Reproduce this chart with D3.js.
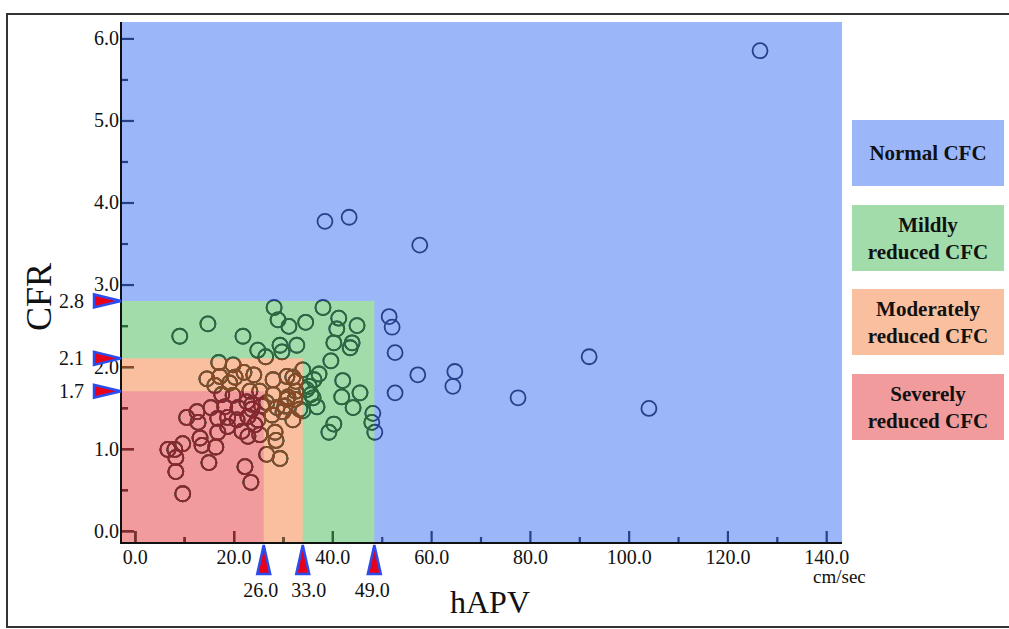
<!DOCTYPE html>
<html>
<head>
<meta charset="utf-8">
<script src="https://cdn.jsdelivr.net/npm/d3@7"></script>
<style>
  body { margin: 0; background: #fff; overflow: hidden; }
  svg { display: block; font-family: "Liberation Serif", "Times New Roman", serif; }
</style>
</head>
<body>
<svg id="chart" width="1009" height="629"></svg>
<script>
// hAPV (cm/sec) and CFR for each patient
const hapv = [126.6, 38.5, 43.4, 57.7, 51.5, 52.1, 52.7, 57.3, 64.8, 64.4, 52.7, 92.0, 77.6, 104.1,
  48.2, 48.0, 48.6, 9.1, 14.8, 21.9, 24.9, 26.5, 29.4, 29.8, 32.8, 28.2, 29.0, 31.2, 34.6, 38.1,
  41.3, 40.9, 45.0, 40.3, 43.6, 44.0, 39.7, 34.0, 37.3, 36.3, 42.1, 41.9, 45.6, 35.3, 35.7, 36.9,
  44.2, 34.0, 40.3, 39.3, 34.8, 36.1, 17.0, 19.9, 22.1, 24.1, 14.6, 17.2, 20.3, 28.0, 30.8, 32.6,
  16.2, 19.2, 32.0, 31.0, 32.6, 30.4, 27.8, 28.4, 28.6, 26.7, 29.4, 30.8, 30.0, 32.4, 28.8, 33.4,
  32.0, 28.0, 19.9, 17.6, 23.3, 25.3, 22.7, 26.7, 23.7, 12.6, 15.4, 18.2, 20.9, 23.7, 25.7, 10.5,
  12.8, 16.8, 18.8, 20.7, 22.9, 24.3, 24.9, 16.8, 18.8, 21.7, 22.9, 25.3, 13.2, 6.7, 8.1, 9.7,
  13.6, 16.4, 8.3, 15.0, 22.3, 8.3, 23.5, 9.7];
const cfr = [5.85, 3.77, 3.82, 3.48, 2.61, 2.48, 2.17, 1.90, 1.94, 1.76, 1.68, 2.12, 1.62, 1.49,
  1.43, 1.32, 1.20, 2.37, 2.52, 2.37, 2.20, 2.12, 2.26, 2.18, 2.26, 2.72, 2.57, 2.49, 2.54, 2.72,
  2.59, 2.46, 2.50, 2.29, 2.23, 2.29, 2.07, 1.96, 1.91, 1.84, 1.83, 1.63, 1.68, 1.76, 1.66, 1.51,
  1.50, 1.46, 1.30, 1.20, 1.72, 1.62, 2.05, 2.02, 1.93, 1.90, 1.85, 1.88, 1.87, 1.84, 1.88, 1.82,
  1.77, 1.80, 1.87, 1.63, 1.70, 1.52, 1.41, 1.20, 1.10, 0.93, 0.88, 1.60, 1.45, 1.60, 1.50, 1.48,
  1.35, 1.66, 1.65, 1.66, 1.70, 1.70, 1.57, 1.56, 1.54, 1.45, 1.50, 1.51, 1.50, 1.48, 1.52, 1.38,
  1.32, 1.37, 1.38, 1.35, 1.39, 1.29, 1.35, 1.20, 1.27, 1.21, 1.15, 1.17, 1.13, 0.99, 0.99, 1.06,
  1.04, 1.02, 0.89, 0.83, 0.78, 0.72, 0.59, 0.45];

// cut-offs for each reduced CFC class, widest first
const hapvCuts = [49, 33, 26];          // labels
const hapvCutsAt = [48.5, 34, 26.1];    // where the picture puts them on the axis
const cfrCuts = [2.8, 2.1, 1.7];
const classNames = [['Normal CFC'], ['Mildly', 'reduced CFC'], ['Moderately', 'reduced CFC'], ['Severely', 'reduced CFC']];
const classColors = ['#9bb7fa', '#a3dcab', '#f9bf9e', '#f29b9c'];
const classInk = ['#27408a', '#2b6a37', '#8a4a26', '#882731'];

const xMajor = [0, 20, 40, 60, 80, 100, 120, 140];
const xMinor = [10, 30, 50, 70, 90, 110, 130];
const yMajor = [0, 1, 2, 3, 4, 5, 6];
const yMinor = [0.5, 1.5, 2.5, 3.5, 4.5, 5.5];

const svg = d3.select('svg#chart');

// outer frame (right side runs off the picture)
svg.append('rect')
    .attr('x', 7).attr('y', 14)
    .attr('width', 1100).attr('height', 613)
    .attr('fill', 'none')
    .attr('stroke', '#333')
    .attr('stroke-width', 2);

const xScale = d3.scaleLinear().domain([-2.8, 143.2]).range([121, 842]);
const yScale = d3.scaleLinear().domain([-0.15, 6.2]).range([543, 22]);
const [x0, x1] = xScale.range();
const [y0, y1] = yScale.range();

// zone rectangles: full plot, then nested reduced classes
const zones = [{ w: x1 - x0, top: y1 }].concat(hapvCutsAt.map((c, i) => ({
    w: xScale(c) - x0, top: yScale(cfrCuts[i])
})));

const defs = svg.append('defs');
zones.forEach((z, i) => {
    svg.append('rect')
        .attr('x', x0).attr('y', z.top)
        .attr('width', z.w).attr('height', y0 - z.top)
        .attr('fill', classColors[i]);
    defs.append('clipPath').attr('id', `zone${i}`)
        .append('rect')
        .attr('x', x0 - 2).attr('y', z.top)
        .attr('width', z.w + 2).attr('height', y0 - z.top + 2);
});

// ticks and circles, tinted by the zone they fall in
zones.forEach((z, i) => {
    const g = svg.append('g').attr('clip-path', `url(#zone${i})`);
    const addTicks = (axis, tr) => {
        const t = g.append('g').attr('transform', tr).call(axis);
        t.select('.domain').remove();
        t.selectAll('.tick line').attr('stroke', classInk[i]).attr('stroke-width', 2.2);
        t.selectAll('text').remove();
    };
    addTicks(d3.axisBottom(xScale).tickValues(xMajor).tickSize(-12), `translate(0,${y0})`);
    addTicks(d3.axisBottom(xScale).tickValues(xMinor).tickSize(-6), `translate(0,${y0})`);
    addTicks(d3.axisLeft(yScale).tickValues(yMajor).tickSize(-13), `translate(${x0},0)`);
    addTicks(d3.axisLeft(yScale).tickValues(yMinor).tickSize(-7), `translate(${x0},0)`);

    g.append('g')
        .selectAll('circle')
        .data(d3.range(hapv.length))
        .join('circle')
        .attr('cx', d => xScale(hapv[d]))
        .attr('cy', d => yScale(cfr[d]))
        .attr('r', 7.5)
        .attr('fill', 'none')
        .attr('stroke', classInk[i])
        .attr('stroke-width', 1.8);
});

// axis lines
svg.append('path')
    .attr('d', `M${x0},${y1}V${y0}H${x1}`)
    .attr('fill', 'none')
    .attr('stroke', '#111')
    .attr('stroke-width', 2);

// tick labels
const xLab = svg.append('g')
    .attr('transform', `translate(0,${y0})`)
    .call(d3.axisBottom(xScale).tickValues(xMajor).tickSize(0).tickPadding(7).tickFormat(d3.format('.1f')));
xLab.select('.domain').remove();
xLab.selectAll('text').attr('font-size', 20).attr('font-family', 'Liberation Serif').attr('fill', '#111');

const yLab = svg.append('g')
    .attr('transform', `translate(${x0},0)`)
    .call(d3.axisLeft(yScale).tickValues(yMajor).tickSize(0).tickPadding(2).tickFormat(d3.format('.1f')));
yLab.select('.domain').remove();
yLab.selectAll('text').attr('font-size', 20).attr('font-family', 'Liberation Serif').attr('fill', '#111');

// cut-off markers
const marker = svg.append('g');
cfrCuts.forEach(c => {
    const y = yScale(c);
    marker.append('path')
        .attr('d', `M${x0},${y}L${x0 - 27},${y - 6.5}L${x0 - 27},${y + 6.5}Z`)
        .attr('fill', '#e8001a').attr('stroke', '#2b4df0').attr('stroke-width', 2.5);
    marker.append('text')
        .attr('x', 84).attr('y', y).attr('dy', '0.35em')
        .attr('text-anchor', 'end').attr('font-size', 20).attr('fill', '#111')
        .text(d3.format('.1f')(c));
});
const labelNudge = [-2, 6, -3];
hapvCutsAt.forEach((c, i) => {
    const x = xScale(c);
    marker.append('path')
        .attr('d', `M${x},${y0 + 2}L${x - 6.5},${y0 + 31}L${x + 6.5},${y0 + 31}Z`)
        .attr('fill', '#e8001a').attr('stroke', '#2b4df0').attr('stroke-width', 2.5);
    marker.append('text')
        .attr('x', x + labelNudge[i]).attr('y', 597)
        .attr('text-anchor', 'middle').attr('font-size', 20).attr('fill', '#111')
        .text(d3.format('.1f')(hapvCuts[i]));
});

// axis titles
svg.append('text')
    .attr('transform', 'translate(51,297) rotate(-90)')
    .attr('text-anchor', 'middle')
    .attr('font-size', 36).attr('fill', '#111')
    .text('CFR');
svg.append('text')
    .attr('x', 490).attr('y', 613)
    .attr('text-anchor', 'middle')
    .attr('font-size', 32).attr('fill', '#111')
    .text('hAPV');
svg.append('text')
    .attr('x', 813).attr('y', 583)
    .attr('font-size', 19).attr('fill', '#111')
    .text('cm/sec');

// legend boxes
const legendTop = [120, 205, 289, 374];
const legend = svg.append('g');
classNames.forEach((lines, i) => {
    legend.append('rect')
        .attr('x', 852).attr('y', legendTop[i])
        .attr('width', 152).attr('height', 66)
        .attr('fill', classColors[i]);
    const t = legend.append('text')
        .attr('x', 928)
        .attr('text-anchor', 'middle')
        .attr('font-size', 21).attr('font-weight', 'bold').attr('fill', '#111');
    lines.forEach((s, j) => {
        t.append('tspan')
            .attr('x', 928)
            .attr('y', legendTop[i] + 33 + (j - (lines.length - 1) / 2) * 27)
            .attr('dy', '0.35em')
            .text(s);
    });
});
</script>
</body>
</html>
